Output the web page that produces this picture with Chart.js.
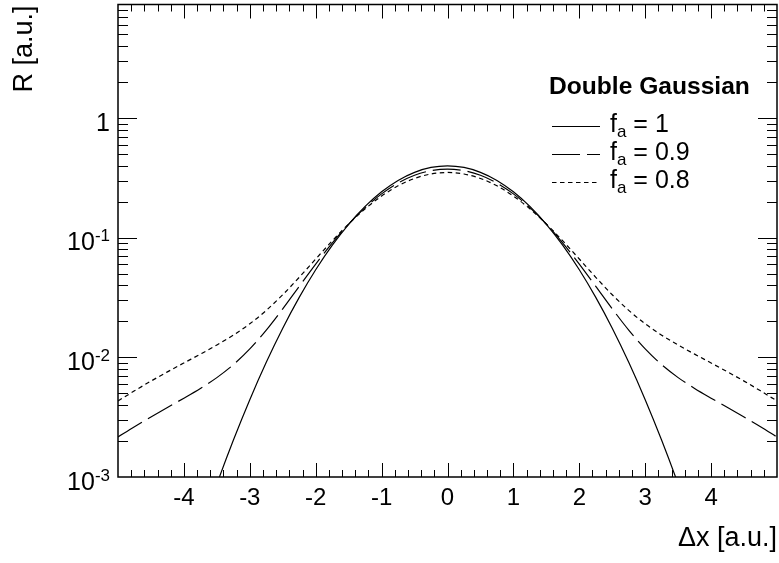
<!DOCTYPE html>
<html>
<head>
<meta charset="utf-8">
<script src="https://cdn.jsdelivr.net/npm/chart.js@4/dist/chart.umd.min.js"></script>
<style>
  html, body { margin: 0; padding: 0; background: #fff; }
  #wrap { width: 779px; height: 563px; }
</style>
</head>
<body>
<div id="wrap"><canvas id="c" width="779" height="563"></canvas></div>
<script>
// Resolution function R(Δx) for a double Gaussian with core fraction f_a
const deltaX = [-5, -4.75, -4.5, -4.25, -4, -3.75, -3.5, -3.25, -3, -2.75, -2.5, -2.25, -2, -1.75, -1.5, -1.25, -1, -0.75, -0.5, -0.25,
  0, 0.25, 0.5, 0.75, 1, 1.25, 1.5, 1.75, 2, 2.25, 2.5, 2.75, 3, 3.25, 3.5, 3.75, 4, 4.25, 4.5, 4.75, 5];

const rFa100 = [null, null, null, null, null, 0.0003527, 0.0008725, 0.002028, 0.004432, 0.009094, 0.01753, 0.03174, 0.05399, 0.08628, 0.12952, 0.18265, 0.24197, 0.30114, 0.35207, 0.38667,
  0.39894, 0.38667, 0.35207, 0.30114, 0.24197, 0.18265, 0.12952, 0.08628, 0.05399, 0.03174, 0.01753, 0.009094, 0.004432, 0.002028, 0.0008725, 0.0003527, null, null, null, null, null];

const rFa090 = [0.00216, 0.00263, 0.00317, 0.00381, 0.00456, 0.00550, 0.00677, 0.00868, 0.01176, 0.01690, 0.02546, 0.03921, 0.06018, 0.09014, 0.12990, 0.17847, 0.23250, 0.28629, 0.33250, 0.36388,
  0.37501, 0.36388, 0.33250, 0.28629, 0.23250, 0.17847, 0.12990, 0.09014, 0.06018, 0.03921, 0.02546, 0.01690, 0.01176, 0.00868, 0.00677, 0.00550, 0.00456, 0.00381, 0.00317, 0.00263, 0.00216];

const rFa080 = [0.00432, 0.00525, 0.00633, 0.00756, 0.00898, 0.01064, 0.01268, 0.01533, 0.01908, 0.02470, 0.03338, 0.04668, 0.06637, 0.09400, 0.13028, 0.17429, 0.22304, 0.27142, 0.31294, 0.34110,
  0.35107, 0.34110, 0.31294, 0.27142, 0.22304, 0.17429, 0.13028, 0.09400, 0.06637, 0.04668, 0.03338, 0.02470, 0.01908, 0.01533, 0.01268, 0.01064, 0.00898, 0.00756, 0.00633, 0.00525, 0.00432];

const seriesNames = ['1', '0.9', '0.8'];
const legendTitle = 'Double Gaussian';

const xTickValues = [-4, -3, -2, -1, 0, 1, 2, 3, 4];
const xTickLabels = ['-4', '-3', '-2', '-1', '0', '1', '2', '3', '4'];
const yTickValues = [0.001, 0.01, 0.1, 1];
const yTickLabels = [['10', '-3'], ['10', '-2'], ['10', '-1'], ['1', '']];

const xTitle = 'Δx [a.u.]';
const yTitle = 'R [a.u.]';

const X_MIN = -5, X_MAX = 5, Y_MIN = 0.001, Y_MAX = 8.9;
const FONT = '"Liberation Sans", Arial, Helvetica, sans-serif';

function pts(ys) {
  return deltaX.map((x, i) => ({ x: x, y: ys[i] }));
}

const lineStyle = {
  borderColor: '#000',
  borderWidth: 1.2,
  pointRadius: 0,
  fill: false,
  cubicInterpolationMode: 'monotone',
  spanGaps: false
};

const datasets = [
  Object.assign({ label: seriesNames[0], data: pts(rFa100), borderDash: [] }, lineStyle),
  Object.assign({ label: seriesNames[1], data: pts(rFa090), borderDash: [28, 7] }, lineStyle),
  Object.assign({ label: seriesNames[2], data: pts(rFa080), borderDash: [4.5, 3.5] }, lineStyle)
];

// Frame, inward ticks on all four sides, labels, titles and legend
const decorations = {
  id: 'decorations',
  afterDraw(chart) {
    const ctx = chart.ctx;
    const { left, right, top, bottom } = chart.chartArea;
    const xs = chart.scales.x, ys = chart.scales.y;
    ctx.save();
    ctx.strokeStyle = '#000';
    ctx.fillStyle = '#000';

    // frame
    ctx.lineWidth = 1.5;
    ctx.strokeRect(left, top, right - left, bottom - top);

    // x ticks (major every 1, minor every 0.2)
    ctx.lineWidth = 1;
    ctx.beginPath();
    for (let i = Math.round(X_MIN * 5) + 1; i < Math.round(X_MAX * 5); i++) {
      const px = Math.round(xs.getPixelForValue(i / 5)) + 0.5;
      const len = (i % 5 === 0) ? 14 : 7;
      ctx.moveTo(px, bottom); ctx.lineTo(px, bottom - len);
      ctx.moveTo(px, top); ctx.lineTo(px, top + len);
    }
    // y ticks (decades major, 2..9 minor)
    for (let d = -3; d <= 0; d++) {
      for (let k = 1; k <= 9; k++) {
        const v = k * Math.pow(10, d);
        if (v <= Y_MIN || v >= Y_MAX) continue;
        const py = Math.round(ys.getPixelForValue(v)) + 0.5;
        const len = (k === 1) ? 19 : 10;
        ctx.moveTo(left, py); ctx.lineTo(left + len, py);
        ctx.moveTo(right, py); ctx.lineTo(right - len, py);
      }
    }
    ctx.stroke();

    // x tick labels
    ctx.font = '24px ' + FONT;
    ctx.textAlign = 'center';
    ctx.textBaseline = 'alphabetic';
    xTickValues.forEach((v, i) => {
      ctx.fillText(xTickLabels[i], xs.getPixelForValue(v), bottom + 28);
    });

    // y tick labels with superscript exponents
    yTickValues.forEach((v, i) => {
      const [base, exp] = yTickLabels[i];
      const py = ys.getPixelForValue(v);
      ctx.font = '25px ' + FONT;
      const wb = ctx.measureText(base).width;
      ctx.font = '17px ' + FONT;
      const we = exp ? ctx.measureText(exp).width : 0;
      const xr = left - 8;
      ctx.textAlign = 'left';
      ctx.font = '25px ' + FONT;
      ctx.fillText(base, xr - wb - we, py + 12.5);
      if (exp) {
        ctx.font = '17px ' + FONT;
        ctx.fillText(exp, xr - we, py + 3.5);
      }
    });

    // axis titles
    ctx.font = '27px ' + FONT;
    ctx.textAlign = 'right';
    ctx.fillText(xTitle, right, 546);
    ctx.save();
    ctx.translate(32, top + 1);
    ctx.rotate(-Math.PI / 2);
    ctx.fillText(yTitle, 0, 0);
    ctx.restore();

    // legend
    ctx.textAlign = 'left';
    ctx.font = 'bold 24.6px ' + FONT;
    ctx.fillText(legendTitle, 549, 94);
    chart.data.datasets.forEach((ds, i) => {
      const ly = 126 + i * 28;
      ctx.lineWidth = ds.borderWidth;
      ctx.setLineDash(ds.borderDash || []);
      ctx.beginPath();
      ctx.moveTo(552, ly + 0.5); ctx.lineTo(600, ly + 0.5);
      ctx.stroke();
      ctx.setLineDash([]);
      let x = 610;
      ctx.font = '25px ' + FONT;
      ctx.fillText('f', x, ly + 6);
      x += ctx.measureText('f').width;
      ctx.font = '17px ' + FONT;
      ctx.fillText('a', x, ly + 11);
      x += ctx.measureText('a').width;
      ctx.font = '25px ' + FONT;
      ctx.fillText(' = ' + ds.label, x, ly + 6);
    });
    ctx.restore();
  }
};

new Chart(document.getElementById('c'), {
  type: 'line',
  data: { datasets: datasets },
  options: {
    responsive: false,
    animation: false,
    devicePixelRatio: 1,
    layout: { padding: { left: 118, right: 2, top: 4.5, bottom: 86 } },
    plugins: { legend: { display: false }, tooltip: { enabled: false } },
    scales: {
      x: { type: 'linear', min: X_MIN, max: X_MAX, display: false },
      y: { type: 'logarithmic', min: Y_MIN, max: Y_MAX, display: false }
    }
  },
  plugins: [decorations]
});
</script>
</body>
</html>
